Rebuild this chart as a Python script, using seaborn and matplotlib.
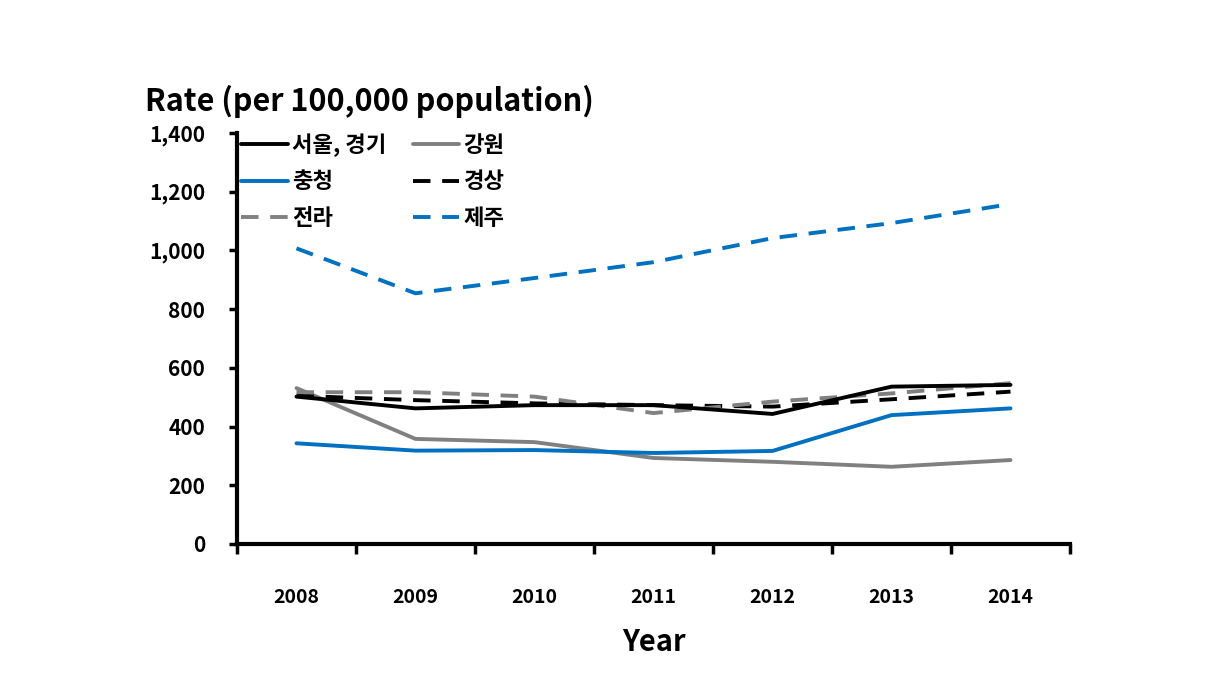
import matplotlib
matplotlib.use("Agg")
import matplotlib.pyplot as plt
import seaborn as sns
import pandas as pd
import numpy as np

years = ["2008", "2009", "2010", "2011", "2012", "2013", "2014"]
seoul_gyeonggi = [502, 462, 473, 473, 443, 536, 542]
gangwon = [531, 358, 347, 293, 280, 263, 286]
chungcheong = [343, 318, 320, 310, 317, 439, 462]
gyeongsang = [505, 490, 479, 473, 468, 493, 519]
jeolla = [517, 517, 502, 446, 485, 513, 548]
jeju = [1007, 854, 906, 960, 1042, 1093, 1158]

y_ticks = [0, 200, 400, 600, 800, 1000, 1200, 1400]
y_labels = ["0", "200", "400", "600", "800", "1,000", "1,200", "1,400"]

sns.set_style("white")
plt.rcParams['font.family'] = ['Noto Sans CJK KR', 'DejaVu Sans']
plt.rcParams['font.weight'] = 'black'
plt.rcParams['text.color'] = 'black'
plt.rcParams['axes.labelcolor'] = 'black'
plt.rcParams['xtick.color'] = 'black'
plt.rcParams['ytick.color'] = 'black'

fig = plt.figure(figsize=(12.25, 6.9), dpi=100)
ax = fig.add_axes([237/1225, 146/690, (1070-237)/1225, (544-133)/690])

x = np.arange(len(years))
BLUE = "#0070C0"
GRAY = "#808080"
series = [
    ("서울, 경기", seoul_gyeonggi, "black", "-"),
    ("충청", chungcheong, BLUE, "-"),
    ("전라", jeolla, GRAY, "--"),
    ("강원", gangwon, GRAY, "-"),
    ("경상", gyeongsang, "black", "--"),
    ("제주", jeju, BLUE, "--"),
]
draw_order = [3, 1, 4, 2, 0, 5]
handles = {}
for i in draw_order:
    name, vals, col, ls = series[i]
    df = pd.DataFrame({"x": x, "y": vals})
    sns.lineplot(data=df, x="x", y="y", ax=ax, color=col, linewidth=2.8,
                 label=name, legend=False)
    line = ax.lines[-1]
    if ls == "--":
        line.set_dashes([4.5, 3.0])
    handles[i] = line

ax.set_xlim(-0.5, 6.5)
ax.set_ylim(0, 1400)
ax.set_xticks(np.arange(-0.5, 7, 1.0))
ax.set_xticklabels([])
ax.set_xticks(x, minor=True)
ax.set_xticklabels(years, minor=True, fontsize=14, fontweight='black')
ax.tick_params(axis='x', which='minor', bottom=False, length=0, pad=32,
               labelcolor='black')
ax.tick_params(axis='x', which='major', bottom=True, length=7, width=2.5,
               direction='out', color='black')
ax.set_yticks(y_ticks)
ax.set_yticklabels(y_labels, fontsize=15, fontweight='black')
ax.tick_params(axis='y', left=True, length=6, width=2.5, direction='out',
               color='black', labelcolor='black', pad=17)

for s in ['top', 'right']:
    ax.spines[s].set_visible(False)
for s in ['left', 'bottom']:
    ax.spines[s].set_linewidth(3)
    ax.spines[s].set_color('black')

ax.set_xlabel("Year", fontsize=21, fontweight='black', labelpad=14, color='black')
ax.set_ylabel("")
fig.text(145/1225, 1 - 101/690, "Rate (per 100,000 population)", fontsize=22,
         fontweight='black', ha='left', va='center', color='black')

leg = ax.legend([handles[i] for i in range(6)], [s[0] for s in series], ncol=2,
                loc='upper left', bbox_to_anchor=(0.005, 1.0), frameon=False,
                fontsize=16, handlelength=2.1, handletextpad=0.18,
                columnspacing=1.2, labelspacing=0.62, borderaxespad=0.0,
                borderpad=0.0)
for t in leg.get_texts():
    t.set_fontweight('black')
    t.set_color('black')

fig.savefig("out.png", dpi=100)
